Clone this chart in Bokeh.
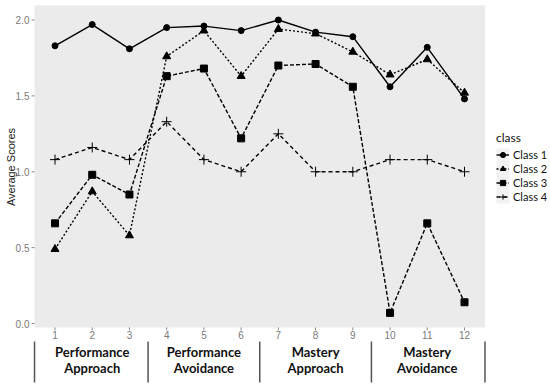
import numpy as np
from bokeh.plotting import figure
from bokeh.models import Range1d, Legend, LegendItem
from bokeh.core.properties import value
from bokeh.embed import file_html
from bokeh.resources import INLINE

# ---------------- data ----------------
items = [1, 2, 3, 4, 5, 6, 7, 8, 9, 10, 11, 12]
class1 = [1.83, 1.97, 1.81, 1.95, 1.96, 1.93, 2.00, 1.92, 1.89, 1.56, 1.82, 1.48]
class2 = [0.49, 0.87, 0.58, 1.76, 1.93, 1.63, 1.94, 1.91, 1.79, 1.64, 1.74, 1.52]
class3 = [0.66, 0.98, 0.85, 1.63, 1.68, 1.22, 1.70, 1.71, 1.56, 0.07, 0.66, 0.14]
class4 = [1.08, 1.16, 1.08, 1.33, 1.08, 1.00, 1.25, 1.00, 1.00, 1.08, 1.08, 1.00]
class_names = ["Class 1", "Class 2", "Class 3", "Class 4"]
y_ticks = [0.0, 0.5, 1.0, 1.5, 2.0]
y_tick_labels = ["0.0", "0.5", "1.0", "1.5", "2.0"]
group_top = ["Performance", "Performance", "Mastery", "Mastery"]
group_bottom = ["Approach", "Avoidance", "Approach", "Avoidance"]
group_centers = [2, 5, 8, 11]
group_edges = [0.45, 3.5, 6.5, 9.5, 12.55]

# ---------------- layout ----------------
W, H = 550, 388
PXX = 409.5 / 11.0          # pixels per x unit
PXY = 151.75                # pixels per y unit
X_AT_0 = 1 - 54.5 / PXX     # x value at the canvas left edge
Y_AT_0 = 323 / PXY          # y value at the canvas top edge


def px2x(px):
    return X_AT_0 + px / PXX


def px2y(py):
    return Y_AT_0 - py / PXY


PANEL_L, PANEL_R = 0.45, 12.55
PANEL_B, PANEL_T = -0.026, 2.096

p = figure(width=W, height=H, output_backend="svg", toolbar_location=None,
           x_range=Range1d(px2x(0), px2x(W)), y_range=Range1d(px2y(H), px2y(0)),
           min_border=0, min_border_left=0, min_border_right=0,
           min_border_top=0, min_border_bottom=0)
p.axis.visible = False
p.grid.visible = False
p.outline_line_color = None
p.background_fill_color = "white"
p.border_fill_color = "white"

# panel
p.quad(left=PANEL_L, right=PANEL_R, bottom=PANEL_B, top=PANEL_T,
       fill_color="#ebebeb", line_color=None)

TICK_FONT = "Liberation Sans"
CAT_FONT = "Lato"

# y ticks
p.segment(x0=[PANEL_L] * len(y_ticks), x1=[PANEL_L - 3 / PXX] * len(y_ticks),
          y0=y_ticks, y1=y_ticks, line_color="#8a8a8a", line_width=1)
p.text(x=[PANEL_L] * len(y_ticks), y=y_ticks, text=y_tick_labels,
       x_offset=-5, text_align="right", text_baseline="middle",
       text_font=value(TICK_FONT), text_font_size="10px", text_color="#7a7a7a")

# x ticks
p.segment(x0=items, x1=items, y0=[PANEL_B] * 12, y1=[PANEL_B - 3 / PXY] * 12,
          line_color="#8a8a8a", line_width=1)
p.text(x=items, y=[PANEL_B] * 12, text=[str(i) for i in items],
       y_offset=8, text_align="center", text_baseline="middle",
       text_font=value(TICK_FONT), text_font_size="10px", text_color="#7a7a7a")

# y axis title
p.text(x=[px2x(10)], y=[px2y(166.5)], text=["Average Scores"],
       angle=np.pi / 2, text_align="center", text_baseline="middle",
       text_font=value(TICK_FONT), text_font_size="11px", text_color="#222222")

# group labels and separators
p.text(x=group_centers, y=[PANEL_B] * 4, text=group_top, y_offset=25,
       text_align="center", text_baseline="middle", text_font=value(CAT_FONT),
       text_font_style="bold", text_font_size="13px", text_color="#111111")
p.text(x=group_centers, y=[PANEL_B] * 4, text=group_bottom, y_offset=41,
       text_align="center", text_baseline="middle", text_font=value(CAT_FONT),
       text_font_style="bold", text_font_size="13px", text_color="#111111")
p.segment(x0=group_edges, x1=group_edges, y0=[px2y(341)] * 5,
          y1=[px2y(382)] * 5, line_color="#555555", line_width=1.5)

# series
series = [class1, class2, class3, class4]
dashes = ["solid", "2 2", "4 2", "4 3"]
markers = ["circle", "triangle", "square", "cross"]
msizes = [6, 8, 7, 10]
legend_items = []
for name, ys, dash, mk, ms in zip(class_names, series, dashes, markers, msizes):
    ln = p.line(items, ys, line_color="black", line_width=1.4, line_dash=dash)
    if mk == "cross":
        sc = p.scatter(items, ys, marker=mk, size=ms, line_color="black",
                       line_width=1)
    else:
        sc = p.scatter(items, ys, marker=mk, size=ms, fill_color="black",
                       line_color="black")
    legend_items.append(LegendItem(label=name, renderers=[ln, sc]))

# legend key background
p.quad(left=[px2x(496)], right=[px2x(509)], bottom=[px2y(203)], top=[px2y(148)],
       fill_color="#f2f2f2", line_color=None)

legend = Legend(items=legend_items, location=(496, H - 203), title="class",
                title_text_font=CAT_FONT, title_text_font_size="12px",
                title_text_font_style="normal",
                title_text_color="#111111", title_standoff=3,
                label_text_font=CAT_FONT, label_text_font_size="11px",
                label_text_color="#111111", glyph_width=13, glyph_height=13,
                label_height=13, label_standoff=4, spacing=1, padding=0,
                margin=0, border_line_color=None, background_fill_alpha=0)
p.add_layout(legend)

open("out.html", "w").write(file_html(p, INLINE))
